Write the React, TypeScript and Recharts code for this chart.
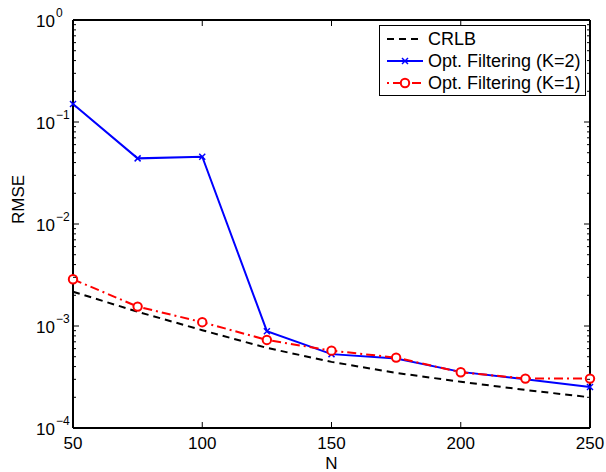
import React from "react"
import { LineChart, Line, XAxis, YAxis, ReferenceLine } from "recharts"

const FONT = "'Liberation Sans', Arial, Helvetica, sans-serif"

const nValues = [50, 75, 100, 125, 150, 175, 200, 225, 250]
const crlb = [0.00217, 0.00138, 0.00091, 0.00061, 0.000445, 0.000347, 0.000284, 0.000236, 0.0002]
const optK2 = [0.15, 0.044, 0.0457, 0.00089, 0.00053, 0.00048, 0.000355, 0.0003, 0.000252]
const optK1 = [0.00287, 0.00155, 0.00109, 0.00073, 0.000573, 0.00049, 0.000352, 0.000305, 0.000305]

const xTicks = [50, 100, 150, 200, 250]
const decades = [1e-4, 1e-3, 1e-2, 1e-1, 1]
const yTicks: number[] = []
decades.forEach((d, i) => {
  yTicks.push(d)
  if (i < decades.length - 1) {
    for (let m = 2; m <= 9; m++) yTicks.push(d * m)
  }
})

const legendItems = [
  { key: "crlb", label: "CRLB" },
  { key: "k2", label: "Opt. Filtering (K=2)" },
  { key: "k1", label: "Opt. Filtering (K=1)" },
]

const data = nValues.map((n, i) => ({ n, crlb: crlb[i], k2: optK2[i], k1: optK1[i] }))

const AXIS = "#000"

const isMajor = (v: number) => {
  const l = Math.log10(v)
  return Math.abs(l - Math.round(l)) < 1e-6
}

const LeftTick = (props: any) => {
  const { x, y, payload } = props
  const v = payload.value
  const major = isMajor(v)
  const exp = Math.round(Math.log10(v))
  return (
    <g>
      <path d={`M${x},${y}h${major ? 6 : 3}`} stroke={AXIS} strokeWidth={1} fill="none" />
      {major && (
        <>
          <text x={x - 18} y={y + 7} textAnchor="end" fontSize={17} fontFamily={FONT} fill="#000">10</text>
          <text x={x - 17} y={y - 3} textAnchor="start" fontSize={12} fontFamily={FONT} fill="#000">
            {exp < 0 ? "\u2212" + Math.abs(exp) : exp}
          </text>
        </>
      )}
    </g>
  )
}

const RightTick = (props: any) => {
  const { x, y, payload } = props
  const major = isMajor(payload.value)
  return <path d={`M${x},${y}h${major ? -6 : -3}`} stroke={AXIS} strokeWidth={1} fill="none" />
}

const BottomTick = (props: any) => {
  const { x, y, payload } = props
  return (
    <g>
      <path d={`M${x},${y}v-6`} stroke={AXIS} strokeWidth={1} fill="none" />
      <text x={x} y={y + 21} textAnchor="middle" fontSize={17} fontFamily={FONT} fill="#000">
        {payload.value}
      </text>
    </g>
  )
}

const TopTick = (props: any) => {
  const { x, y } = props
  return <path d={`M${x},${y}v6`} stroke={AXIS} strokeWidth={1} fill="none" />
}

const CrossDot = (props: any) => {
  const { cx, cy } = props
  if (cx == null || cy == null) return null
  const s = 3
  return (
    <g>
      <line x1={cx - s} y1={cy - s} x2={cx + s} y2={cy + s} stroke="#0000ff" strokeWidth={1.5} />
      <line x1={cx - s} y1={cy + s} x2={cx + s} y2={cy - s} stroke="#0000ff" strokeWidth={1.5} />
    </g>
  )
}

const CircleDot = (props: any) => {
  const { cx, cy } = props
  if (cx == null || cy == null) return null
  return <circle cx={cx} cy={cy} r={4.2} fill="#fff" stroke="#ff0000" strokeWidth={2} />
}

const LegendBox = () => (
  <div style={{ position: "absolute", left: 379, top: 25, width: 207, height: 71, border: `1px solid ${AXIS}`, background: "#fff", boxSizing: "border-box" }}>
    <svg width={205} height={69} style={{ display: "block" }}>
      {legendItems.map((item, i) => {
        const cy = 13 + i * 22
        return (
          <g key={item.key}>
            {item.key === "crlb" && (
              <line x1={7} x2={43} y1={cy} y2={cy} stroke="#000" strokeWidth={2} strokeDasharray="7 5" />
            )}
            {item.key === "k2" && (
              <>
                <line x1={7} x2={43} y1={cy} y2={cy} stroke="#0000ff" strokeWidth={2} />
                <CrossDot cx={25} cy={cy} />
              </>
            )}
            {item.key === "k1" && (
              <>
                <line x1={7} x2={43} y1={cy} y2={cy} stroke="#ff0000" strokeWidth={2} strokeDasharray="2 4 9 4" />
                <CircleDot cx={25} cy={cy} />
              </>
            )}
            <text x={48} y={cy + 6} fontSize={18} fontFamily={FONT} fill="#000">{item.label}</text>
          </g>
        )
      })}
    </svg>
  </div>
)

const NLabel = (props: any) => {
  const { viewBox } = props
  const cx = viewBox.x + viewBox.width / 2
  return (
    <text x={cx} y={469} textAnchor="middle" fontSize={17} fontFamily={FONT} fill="#000">N</text>
  )
}

export default function App() {
  return (
    <div style={{ position: "absolute", left: 0, top: 0, width: 606, height: 472, background: "#fff" }}>
      <LineChart width={606} height={472} data={data} margin={{ top: 19, right: 15, bottom: 0, left: 0 }}>
        <XAxis
          dataKey="n"
          type="number"
          domain={[50, 250]}
          ticks={xTicks}
          height={44}
          tickSize={0}
          tickMargin={0}
          tick={<BottomTick />}
          stroke={AXIS}
          strokeWidth={2}
          label={<NLabel />}
        />
        <XAxis
          xAxisId="top"
          dataKey="n"
          type="number"
          orientation="top"
          domain={[50, 250]}
          ticks={xTicks}
          height={1}
          tickSize={0}
          tickMargin={0}
          tick={<TopTick />}
          stroke={AXIS}
          strokeWidth={2}
        />
        <YAxis
          scale="log"
          type="number"
          domain={[1e-4, 1]}
          allowDataOverflow
          ticks={yTicks}
          interval={0}
          width={73}
          tickSize={0}
          tickMargin={0}
          tick={<LeftTick />}
          stroke={AXIS}
          strokeWidth={2}
          label={{ value: "RMSE", angle: -90, position: "insideLeft", offset: 18, fontSize: 17, fontFamily: FONT, fill: "#000", stroke: "none" }}
        />
        <YAxis
          yAxisId="right"
          orientation="right"
          scale="log"
          type="number"
          domain={[1e-4, 1]}
          allowDataOverflow
          ticks={yTicks}
          interval={0}
          width={1}
          tickSize={0}
          tickMargin={0}
          tick={<RightTick />}
          stroke={AXIS}
          strokeWidth={2}
        />
        {/* frame on top and right, in case the mirror axes are skipped */}
        <ReferenceLine y={1} stroke={AXIS} strokeWidth={2} />
        <ReferenceLine x={250} stroke={AXIS} strokeWidth={2} />
        <Line
          xAxisId="top"
          yAxisId="right"
          dataKey="crlb"
          stroke="none"
          dot={false}
          activeDot={false}
          isAnimationActive={false}
        />
        <Line
          dataKey="crlb"
          stroke="#000"
          strokeWidth={2}
          strokeDasharray="7 5"
          dot={false}
          activeDot={false}
          isAnimationActive={false}
        />
        <Line
          dataKey="k2"
          stroke="#0000ff"
          strokeWidth={2}
          dot={<CrossDot />}
          activeDot={false}
          isAnimationActive={false}
        />
        <Line
          dataKey="k1"
          stroke="#ff0000"
          strokeWidth={2}
          strokeDasharray="9 4 2 4"
          dot={<CircleDot />}
          activeDot={false}
          isAnimationActive={false}
        />
      </LineChart>
      <LegendBox />
    </div>
  )
}
